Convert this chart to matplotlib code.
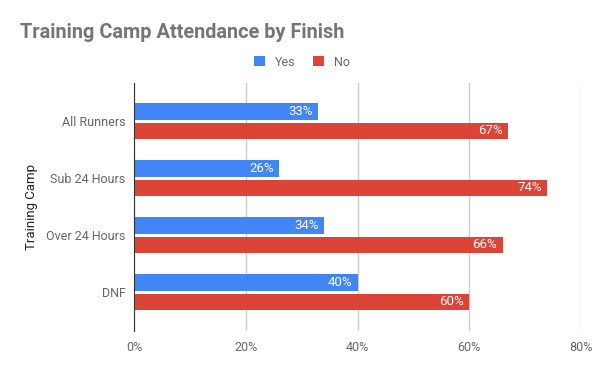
import numpy as np
import matplotlib.pyplot as plt

categories = ["All Runners", "Sub 24 Hours", "Over 24 Hours", "DNF"]
yes_vals = [33, 26, 34, 40]
no_vals = [67, 74, 66, 60]
series_names = ["Yes", "No"]
xticks = [0, 20, 40, 60, 80]

plt.rcParams['font.family'] = ['Roboto', 'DejaVu Sans']

blue = "#4285F4"
red = "#DB4437"

fig = plt.figure(figsize=(6, 3.71), dpi=100)
ax = fig.add_axes([134 / 600, 40 / 371, 447 / 600, 248 / 371])

y = np.arange(len(categories))
h = 0.29
b1 = ax.barh(y - 0.168, yes_vals, height=h, color=blue, label=series_names[0])
b2 = ax.barh(y + 0.168, no_vals, height=h, color=red, label=series_names[1])

# value labels inside the bar ends
for bars in (b1, b2):
    for rect in bars:
        w = rect.get_width()
        ax.text(w - 1, rect.get_y() + rect.get_height() / 2, f"{w:.0f}%",
                ha="right", va="center", color="white", fontsize=9.5)

ax.set_xlim(0, 80)
ax.set_ylim(3.68, -0.67)
ax.set_xticks(xticks)
ax.set_xticklabels([f"{v}%" for v in xticks])
ax.set_yticks(y)
ax.set_yticklabels(categories)
ax.tick_params(axis="both", length=0, labelsize=9, labelcolor="#666666")
ax.tick_params(axis="x", pad=7)
ax.tick_params(axis="y", pad=6)
ax.grid(axis="x", color="#cccccc", linewidth=1)
ax.set_axisbelow(True)
for s in ["top", "right", "bottom"]:
    ax.spines[s].set_visible(False)
ax.spines["left"].set_color("#333333")
ax.spines["left"].set_zorder(5)

ax.set_ylabel("Training Camp", fontsize=9.5, color="#222222")
ax.yaxis.set_label_coords(-0.215, 0.5)

fig.text(20 / 600, 1 - 32 / 371, "Training Camp Attendance by Finish",
         fontsize=14.3, fontweight="bold", color="#757575", va="center", ha="left")

leg = ax.legend(loc="center", bbox_to_anchor=(302 / 600, 1 - 62 / 371),
                bbox_transform=fig.transFigure, ncol=2, frameon=False,
                fontsize=9, handlelength=0.9, handleheight=0.9,
                columnspacing=1.4, handletextpad=0.8)
for t in leg.get_texts():
    t.set_color("#666666")

fig.savefig("out.png", dpi=100)
